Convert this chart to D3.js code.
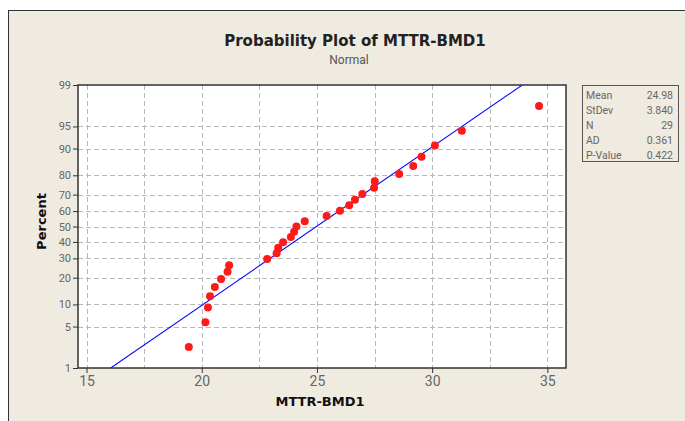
<!DOCTYPE html>
<html>
<head>
<meta charset="utf-8">
<script src="https://cdn.jsdelivr.net/npm/d3@7"></script>
<style>
html,body{margin:0;padding:0;background:#fff;}
svg{display:block;}
</style>
</head>
<body>
<svg id="chart" width="685" height="421"></svg>
<script>
// ---- data ----
const sampleValues = [19.44,20.16,20.27,20.36,20.57,20.84,21.12,21.19,22.84,23.25,23.32,23.53,23.87,24.01,24.11,24.47,25.42,26.00,26.40,26.65,26.97,27.48,27.51,28.57,29.18,29.54,30.12,31.29,34.64];
const plotPercents = [2.38,5.78,9.18,12.59,15.99,19.39,22.79,26.19,29.59,32.99,36.39,39.80,43.20,46.60,50.00,53.40,56.80,60.20,63.61,67.01,70.41,73.81,77.21,80.61,84.01,87.41,90.82,94.22,97.62];
const percentTicks = [1,5,10,20,30,40,50,60,70,80,90,95,99];
const xTicks = [15,20,25,30,35];
const xGrid = [15,17.5,20,22.5,25,27.5,30,32.5,35];
const statLabels = ["Mean","StDev","N","AD","P-Value"];
const statValues = ["24.98","3.840","29","0.361","0.422"];
const fitMean = 24.98, fitSd = 3.840;
const titleText = "Probability Plot of MTTR-BMD1";
const subtitleText = "Normal";
const xLabel = "MTTR-BMD1";
const yLabel = "Percent";

// inverse normal CDF (Acklam)
function probit(p){
  const a=[-3.969683028665376e+01,2.209460984245205e+02,-2.759285104469687e+02,1.383577518672690e+02,-3.066479806614716e+01,2.506628277459239e+00];
  const b=[-5.447609879822406e+01,1.615858368580409e+02,-1.556989798598866e+02,6.680131188771972e+01,-1.328068155288572e+01];
  const c=[-7.784894002430293e-03,-3.223964580411365e-01,-2.400758277161838e+00,-2.549732539343734e+00,4.374664141464968e+00,2.938163982698783e+00];
  const d=[7.784695709041462e-03,3.224671290700398e-01,2.445134137142996e+00,3.754408661907416e+00];
  const pl=0.02425;
  let q,r;
  if(p<pl){q=Math.sqrt(-2*Math.log(p));return (((((c[0]*q+c[1])*q+c[2])*q+c[3])*q+c[4])*q+c[5])/((((d[0]*q+d[1])*q+d[2])*q+d[3])*q+1);}
  if(p<=1-pl){q=p-0.5;r=q*q;return (((((a[0]*r+a[1])*r+a[2])*r+a[3])*r+a[4])*r+a[5])*q/(((((b[0]*r+b[1])*r+b[2])*r+b[3])*r+b[4])*r+1);}
  q=Math.sqrt(-2*Math.log(1-p));return -(((((c[0]*q+c[1])*q+c[2])*q+c[3])*q+c[4])*q+c[5])/((((d[0]*q+d[1])*q+d[2])*q+d[3])*q+1);
}

const svg = d3.select("#chart");
const W=685,H=421;
const L=78,R=566,T=85,B=368;

// figure background and frame
svg.append("rect").attr("x",0).attr("y",0).attr("width",W).attr("height",H).attr("fill","#ffffff");
svg.append("rect").attr("x",8.5).attr("y",10.5).attr("width",W+10).attr("height",H+10)
  .attr("fill","#efebe1").attr("stroke","#333").attr("stroke-width",1);

const x = d3.scaleLinear().domain([14.63,35.81]).range([L,R]);
const yz = d3.scaleLinear().domain([probit(0.01),probit(0.99)]).range([B,T]);
const y = p => yz(probit(p/100));

// plot area
svg.append("rect").attr("x",L).attr("y",T).attr("width",R-L).attr("height",B-T).attr("fill","#ffffff");

const clip = svg.append("clipPath").attr("id","clip");
clip.append("rect").attr("x",L).attr("y",T).attr("width",R-L).attr("height",B-T);

// grid
const grid = svg.append("g").attr("stroke","#b8b8b8").attr("stroke-dasharray","5,3").attr("stroke-width",1);
grid.selectAll("line.v").data(xGrid).enter().append("line")
  .attr("x1",d=>Math.round(x(d))+0.5).attr("x2",d=>Math.round(x(d))+0.5).attr("y1",T).attr("y2",B);
grid.selectAll("line.h").data(percentTicks.filter(p=>p>1&&p<99)).enter().append("line")
  .attr("y1",d=>Math.round(y(d))+0.5).attr("y2",d=>Math.round(y(d))+0.5).attr("x1",L).attr("x2",R);

// fitted line
const lineP=[0.5,99.5];
svg.append("g").attr("clip-path","url(#clip)").append("line")
  .attr("x1",x(fitMean+fitSd*probit(lineP[0]/100))).attr("y1",y(lineP[0]))
  .attr("x2",x(fitMean+fitSd*probit(lineP[1]/100))).attr("y2",y(lineP[1]))
  .attr("stroke","#0000ff").attr("stroke-width",1.1);

// points
svg.append("g").selectAll("circle").data(sampleValues).enter().append("circle")
  .attr("cx",d=>x(d)).attr("cy",(d,i)=>y(plotPercents[i])).attr("r",4)
  .attr("fill","#ff1a1a");

// frame
svg.append("rect").attr("x",L).attr("y",T).attr("width",R-L).attr("height",B-T)
  .attr("fill","none").attr("stroke","#333").attr("stroke-width",1.5);

// axes
const xAxis = d3.axisBottom(x).tickValues(xTicks).tickSize(5).tickPadding(3).tickFormat(d3.format("d"));
const gx = svg.append("g").attr("transform",`translate(0,${B})`).call(xAxis);
gx.select(".domain").remove();
gx.selectAll("line").attr("stroke","#333");
gx.selectAll("text").attr("font-family","Roboto, 'Liberation Sans', sans-serif").attr("font-size",14).attr("fill","#666");

const yAxis = d3.axisLeft(yz).tickValues(percentTicks.map(p=>probit(p/100))).tickFormat((d,i)=>percentTicks[i]).tickSize(5).tickPadding(2);
const gy = svg.append("g").attr("transform",`translate(${L},0)`).call(yAxis);
gy.select(".domain").remove();
gy.selectAll("line").attr("stroke","#333");
gy.selectAll("text").attr("font-family","Roboto, 'Liberation Sans', sans-serif").attr("font-size",11).attr("fill","#666");

// titles
svg.append("text").attr("x",355).attr("y",46).attr("text-anchor","middle")
  .attr("font-family","'DejaVu Sans', sans-serif").attr("font-weight","bold").attr("font-size",15).attr("fill","#222").text(titleText);
svg.append("text").attr("x",349).attr("y",64).attr("text-anchor","middle")
  .attr("font-family","Roboto, sans-serif").attr("font-size",12).attr("fill","#555").text(subtitleText);
svg.append("text").attr("x",320).attr("y",406).attr("text-anchor","middle")
  .attr("font-family","'DejaVu Sans', sans-serif").attr("font-weight","bold").attr("font-size",13).attr("fill","#111").text(xLabel);
svg.append("text").attr("transform",`translate(46,${(T+B)/2-5}) rotate(-90)`).attr("text-anchor","middle")
  .attr("font-family","'DejaVu Sans', sans-serif").attr("font-weight","bold").attr("font-size",13).attr("fill","#111").text(yLabel);

// stats box
const bx=582,by=85,bw=96,bh=76;
svg.append("rect").attr("x",bx+0.5).attr("y",by+0.5).attr("width",bw).attr("height",bh)
  .attr("fill","#efebe1").attr("stroke","#555").attr("stroke-width",1);
const sg = svg.append("g").attr("font-family","Roboto, sans-serif").attr("font-size",10.5).attr("fill","#666");
sg.selectAll("text.l").data(statLabels).enter().append("text")
  .attr("x",bx+4).attr("y",(d,i)=>by+14+i*15).text(d=>d);
sg.selectAll("text.v").data(statValues).enter().append("text")
  .attr("x",bx+bw-5).attr("y",(d,i)=>by+14+i*15).attr("text-anchor","end").text(d=>d);
</script>
</body>
</html>
